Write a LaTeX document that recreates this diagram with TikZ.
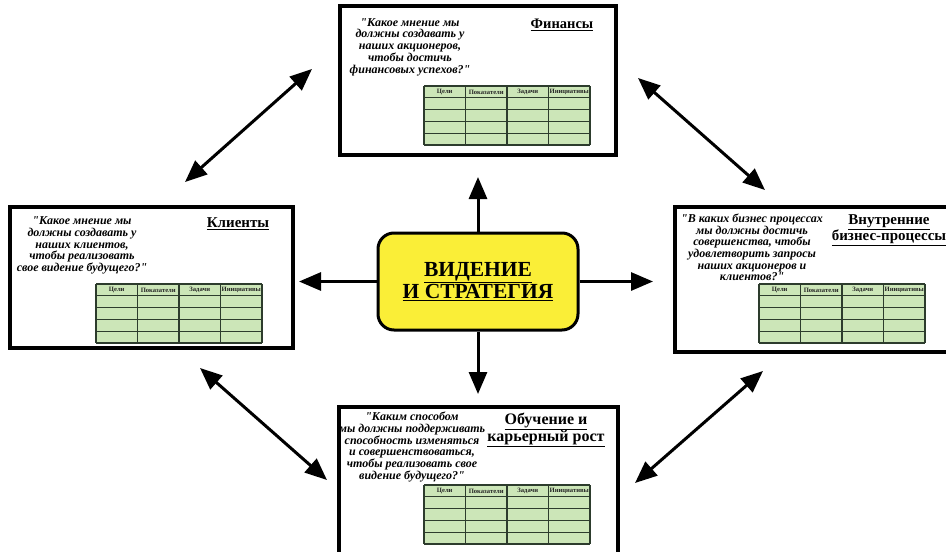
\documentclass[tikz,border=0pt]{standalone}
\usepackage{fontspec}
\setmainfont{Liberation Serif}[Ligatures=TeXOff]
\usetikzlibrary{arrows.meta}
\definecolor{tgreen}{RGB}{204,230,184}
\definecolor{tline}{RGB}{45,60,45}
\definecolor{vyellow}{RGB}{250,238,55}
\newcommand{\bsctable}[2]{%
  \fill[tgreen] (#1,#2) rectangle ({#1+166},{#2+59});
  \foreach \r in {0,...,5} \draw[tline,line width=1.1pt] (#1,{#2+\r*11.8}) -- ({#1+166},{#2+\r*11.8});
  \foreach \c in {0,...,4} \draw[tline,line width=1.1pt] ({#1+\c*41.5},#2) -- ({#1+\c*41.5},{#2+59});
  \foreach \t [count=\i from 0] in {Цели,Показатели,Задачи,Инициативы}
    \node[hdr] at ({#1+20.75+\i*41.5},{#2+6}) {\t};
}
\begin{document}
\begin{tikzpicture}[x=1pt,y=-1pt,
  panel/.style={draw=black, line width=3.5pt, fill=white, inner sep=0pt},
  quote/.style={align=center, font=\fontsize{12}{11.7}\selectfont\bfseries\itshape, inner sep=0pt},
  ttl/.style={align=center, font=\fontsize{15}{16.5}\selectfont\bfseries, inner sep=0pt},
  hdr/.style={font=\fontsize{6.6}{7}\selectfont\bfseries, inner sep=0pt, text=black!85},
  arr/.style={line width=3pt, {Triangle[length=22pt,width=18pt]}-{Triangle[length=22pt,width=18pt]}},
  sarr/.style={line width=3pt, -{Triangle[length=22pt,width=18pt]}}]
\useasboundingbox (0,0) rectangle (946,552);
\clip (0,0) rectangle (946,552);
\fill[white] (0,0) rectangle (946,552);

% panels
\node[panel, minimum width=276pt, minimum height=149pt] (fin) at (478,80.5) {};
\node[panel, minimum width=283pt, minimum height=141pt] (cli) at (151.5,277.5) {};
\node[panel, minimum width=300pt, minimum height=145pt] (proc) at (825,279.5) {};
\node[panel, minimum width=279pt, minimum height=173pt] (learn) at (478.5,493.5) {};

% centre
\node[draw=black, line width=3pt, fill=vyellow, rounded corners=16pt, minimum width=200pt, minimum height=97pt,
  align=center, font=\fontsize{21.5}{19.5}\selectfont\bfseries] (vis) at (478,281.5)
  {\underline{ВИДЕНИЕ}\\[1pt]\underline{И СТРАТЕГИЯ}};

% texts: finance
\node[quote] (qfin) at (410,47) {"Какое мнение мы\\должны создавать у\\наших акционеров,\\чтобы достичь\\финансовых успехов?"};
\node[ttl, font=\fontsize{14.5}{16}\selectfont\bfseries] (tfin) at (562,25) {\underline{Финансы}};
\bsctable{424}{86}

% clients
\node[quote] (qcli) at (82,245.5) {"Какое мнение мы\\должны создавать у\\наших клиентов,\\чтобы реализовать\\свое видение будущего?"};
\node[ttl] (tcli) at (238,224) {\underline{Клиенты}};
\bsctable{96}{284}

% processes
\node[quote] (qproc) at (752,247.5) {"В каких бизнес процессах\\мы должны достичь\\совершенства, чтобы\\удовлетворить запросы\\наших акционеров и\\клиентов?"};
\node[ttl] (tproc) at (889,230) {\underline{Внутренние}\\\underline{бизнес-процессы}};
\bsctable{759}{284}

% learning
\node[quote] (qlearn) at (412,447) {"Каким способом\\мы должны поддерживать\\способность изменяться\\и совершенствоваться,\\чтобы реализовать свое\\видение будущего?"};
\node[ttl, font=\fontsize{16}{16}\selectfont\bfseries] (tlearn) at (546,430) {\underline{Обучение и}\\\underline{карьерный рост}};
\bsctable{424}{485}

% arrow ends
\coordinate (tU) at (478,177);
\coordinate (tD) at (478,394);
\coordinate (tL) at (299,281.5);
\coordinate (tR) at (653,281.5);
\coordinate (a1) at (185,182); \coordinate (a2) at (312,69);
\coordinate (b1) at (638,78);  \coordinate (b2) at (765,190);
\coordinate (c1) at (200,368); \coordinate (c2) at (327,480);
\coordinate (d1) at (763,371); \coordinate (d2) at (635,483);

\draw[sarr] (vis.north -| tU) -- (tU);
\draw[sarr] (vis.south -| tD) -- (tD);
\draw[sarr] (vis.west) -- (tL);
\draw[sarr] (vis.east) -- (tR);
\draw[arr] (a1) -- (a2);
\draw[arr] (b1) -- (b2);
\draw[arr] (c1) -- (c2);
\draw[arr] (d1) -- (d2);
\end{tikzpicture}
\end{document}
